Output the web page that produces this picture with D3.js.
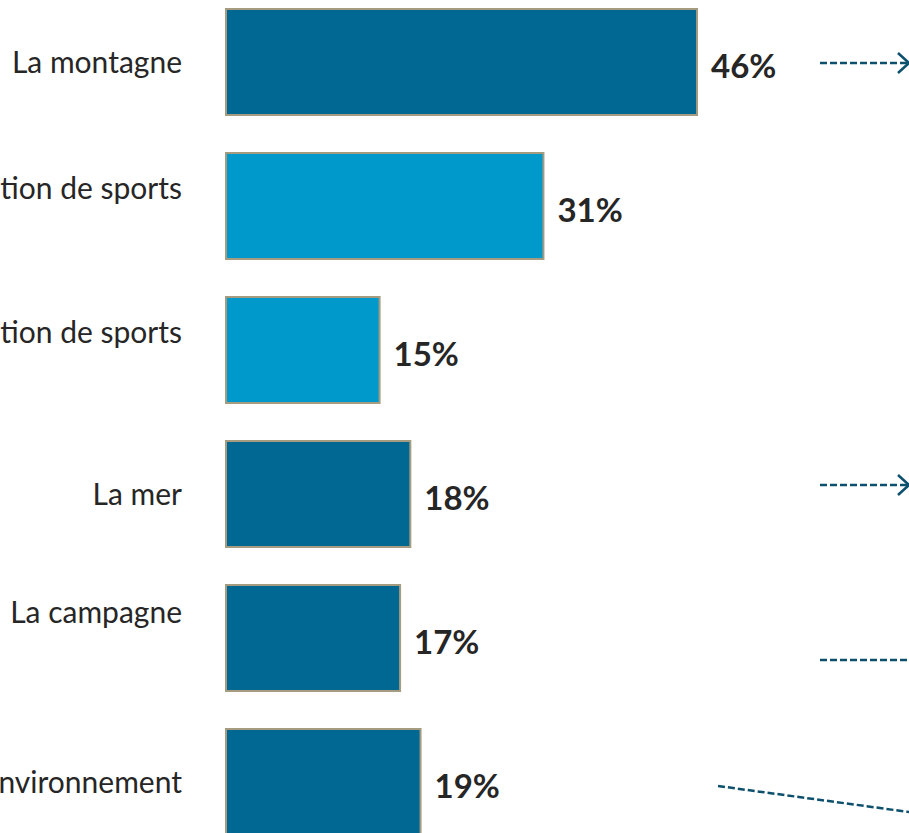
<!DOCTYPE html>
<html>
<head>
<meta charset="utf-8">
<script src="https://cdn.jsdelivr.net/npm/d3@7"></script>
<style>
  body { margin: 0; background: #fff; }
  svg { display: block; }
</style>
</head>
<body>
<div id="chart"></div>
<script>
let w = 909, h = 833

// data
let categories = ["La montagne", "Une destination de sports", "Une station de sports", "La mer", "La campagne", "Un bel environnement"]
let values = [46, 31, 15, 18, 17, 19]
let highlight = [false, true, true, false, false, false]
let colors = {dark: "#006893", light: "#0099cc", edge: "#a59c80", text: "#262626", arrow: "#0d506d"}

// label vertical nudges (the source deck had them a bit off centre)
let labelNudge = [0, -18, -18, 0, -26, 0]

let svg = d3.select("#chart").append("svg")
	.attr("width", w)
	.attr("height", h)

let x = d3.scaleLinear()
	.domain([0, 100])
	.range([226, 1250])

let y = d3.scaleBand()
	.domain(categories)
	.range([-10, 854])
	.paddingInner(0.264)
	.paddingOuter(0.132)

let rows = categories.map((c, i) => ({cat: c, v: values[i], hi: highlight[i], i: i}))
let mid = d => y(d.cat) + y.bandwidth() / 2

// bars
svg.selectAll("rect.bar")
	.data(rows)
	.enter()
	.append("rect")
	.attr("class", "bar")
	.attr("x", x(0))
	.attr("y", d => y(d.cat))
	.attr("width", d => x(d.v) - x(0))
	.attr("height", y.bandwidth())
	.attr("fill", d => d.hi ? colors.light : colors.dark)
	.attr("stroke", colors.edge)
	.attr("stroke-width", 2)

// category labels
svg.selectAll("text.cat")
	.data(rows)
	.enter()
	.append("text")
	.attr("class", "cat")
	.attr("x", 182)
	.attr("y", d => mid(d) + labelNudge[d.i])
	.attr("dy", "0.35em")
	.attr("text-anchor", "end")
	.attr("font-family", "Lato, 'Open Sans', sans-serif")
	.attr("font-size", 30)
	.attr("fill", colors.text)
	.text(d => d.cat)

// value labels
svg.selectAll("text.val")
	.data(rows)
	.enter()
	.append("text")
	.attr("class", "val")
	.attr("x", d => x(d.v) + 14)
	.attr("y", d => mid(d) + 4)
	.attr("dy", "0.35em")
	.attr("font-family", "Lato, 'Open Sans', sans-serif")
	.attr("font-weight", "bold")
	.attr("font-size", 33)
	.attr("fill", colors.text)
	.text(d => d.v + "%")

// dashed callout arrows heading off to the right
let callouts = [
	{cat: "La montagne", x0: 820, x1: 907, dy0: 1, dy1: 1, head: true},
	{cat: "La mer", x0: 820, x1: 907, dy0: -9, dy1: -9, head: true},
	{cat: "La campagne", x0: 820, x1: 930, dy0: 22, dy1: 22, head: false},
	{cat: "Un bel environnement", x0: 718, x1: 909, dy0: 4, dy1: 30, head: false}
]
let cy = (d, k) => y(d.cat) + y.bandwidth() / 2 + k

svg.selectAll("line.callout")
	.data(callouts)
	.enter()
	.append("line")
	.attr("class", "callout")
	.attr("x1", d => d.x0)
	.attr("x2", d => d.x1)
	.attr("y1", d => cy(d, d.dy0))
	.attr("y2", d => cy(d, d.dy1))
	.attr("stroke", colors.arrow)
	.attr("stroke-width", 2.5)
	.attr("stroke-dasharray", "7,3")

svg.selectAll("path.head")
	.data(callouts.filter(d => d.head))
	.enter()
	.append("path")
	.attr("class", "head")
	.attr("d", d => {
		let tx = d.x1 + 2, ty = cy(d, d.dy1)
		return "M" + (tx - 11) + "," + (ty - 10) + "L" + tx + "," + ty + "L" + (tx - 11) + "," + (ty + 10)
	})
	.attr("fill", "none")
	.attr("stroke", colors.arrow)
	.attr("stroke-width", 2.5)
</script>
</body>
</html>
